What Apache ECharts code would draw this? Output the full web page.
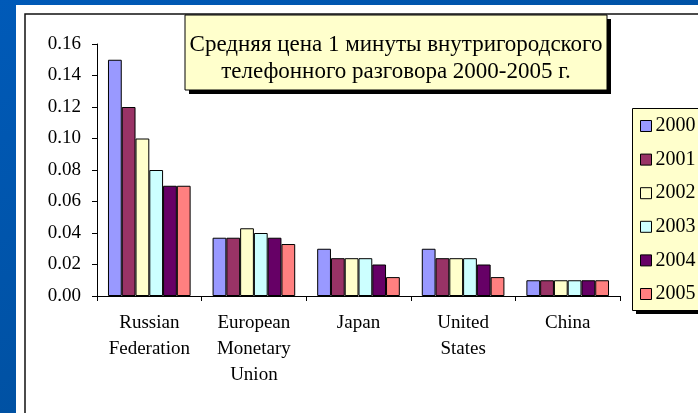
<!DOCTYPE html>
<html>
<head>
<meta charset="utf-8">
<script src="https://cdn.jsdelivr.net/npm/echarts@6/dist/echarts.min.js"></script>
<style>
html,body{margin:0;padding:0;}
#chart{width:698px;height:413px;}
</style>
</head>
<body>
<div id="chart"></div>
<script>
const categories = ['Russian\nFederation', 'European\nMonetary\nUnion', 'Japan', 'United\nStates', 'China'];
const years = ['2000', '2001', '2002', '2003', '2004', '2005'];
const v2000 = [0.150, 0.037, 0.030, 0.030, 0.010];
const v2001 = [0.120, 0.037, 0.024, 0.024, 0.010];
const v2002 = [0.100, 0.043, 0.024, 0.024, 0.010];
const v2003 = [0.080, 0.040, 0.024, 0.024, 0.010];
const v2004 = [0.070, 0.037, 0.020, 0.020, 0.010];
const v2005 = [0.070, 0.033, 0.012, 0.012, 0.010];
const yTicks = ['0.00', '0.02', '0.04', '0.06', '0.08', '0.10', '0.12', '0.14', '0.16'];
const titleLines = ['Средняя цена 1 минуты внутригородского', 'телефонного разговора 2000-2005 г.'];

const colors = ['#9999ff', '#993366', '#ffffcc', '#ccffff', '#660066', '#ff8080'];
const values = [v2000, v2001, v2002, v2003, v2004, v2005];
const font = '"Liberation Serif", "Times New Roman", serif';

const chart = echarts.init(document.getElementById('chart'));
chart.setOption({
  animation: false,
  backgroundColor: {
    type: 'linear', x: 0, y: 0, x2: 0.3, y2: 1,
    colorStops: [{offset: 0, color: '#005ab8'}, {offset: 1, color: '#004f9e'}]
  },
  graphic: [
    {type: 'rect', z: -10, silent: true, shape: {x: 16, y: 5, width: 700, height: 420}, style: {fill: '#ffffff'}},
    {type: 'rect', z: -9, silent: true, shape: {x: 25, y: 14, width: 700, height: 420}, style: {fill: 'none', stroke: '#111', lineWidth: 1.5}},
    {type: 'rect', z: 10, silent: true, shape: {x: 189, y: 19, width: 422, height: 75}, style: {fill: '#000'}},
    {type: 'rect', z: 11, silent: true, shape: {x: 185, y: 15, width: 422, height: 75}, style: {fill: '#ffffcc', stroke: '#000', lineWidth: 1}},
    {type: 'text', z: 12, silent: true, x: 396, y: 58.5, style: {
      text: titleLines.join('\n'), fill: '#000', font: '23px ' + font,
      align: 'center', verticalAlign: 'middle', lineHeight: 27
    }},
    {type: 'rect', z: 0, silent: true, shape: {x: 636, y: 112, width: 80, height: 202}, style: {fill: '#000'}},
    {type: 'rect', z: 1, silent: true, shape: {x: 632.5, y: 108.5, width: 80, height: 202}, style: {fill: '#ffffcc', stroke: '#000', lineWidth: 1}}
  ],
  legend: {
    orient: 'vertical',
    left: 632, top: 108,
    data: years,
    icon: 'rect',
    itemWidth: 11, itemHeight: 11,
    itemGap: 13.6,
    padding: [8, 20, 6, 8],
    textStyle: {fontFamily: font, fontSize: 20, color: '#000', lineHeight: 20, padding: [0, 0, 0, -1]},
    itemStyle: {borderColor: '#000', borderWidth: 1}
  },
  grid: {left: 97, right: 78, top: 44, bottom: 117},
  xAxis: {
    type: 'category',
    data: categories,
    axisLine: {lineStyle: {color: '#000', width: 1}},
    axisTick: {show: true, length: 5, lineStyle: {color: '#000'}},
    axisLabel: {fontFamily: font, fontSize: 19, color: '#000', lineHeight: 26, margin: 14, interval: 0}
  },
  yAxis: {
    type: 'value',
    min: 0, max: 0.16, interval: 0.02,
    axisLine: {show: true, lineStyle: {color: '#000', width: 1}},
    axisTick: {show: true, length: 5, lineStyle: {color: '#000'}},
    splitLine: {show: false},
    axisLabel: {fontFamily: font, fontSize: 19, color: '#000', margin: 16,
      formatter: (v) => yTicks[Math.round(v / 0.02)]}
  },
  series: years.map((y, i) => ({
    name: y,
    type: 'bar',
    data: values[i],
    barGap: '0%',
    barCategoryGap: '21%',
    itemStyle: {color: colors[i], borderColor: '#000', borderWidth: 1}
  }))
});
</script>
</body>
</html>
